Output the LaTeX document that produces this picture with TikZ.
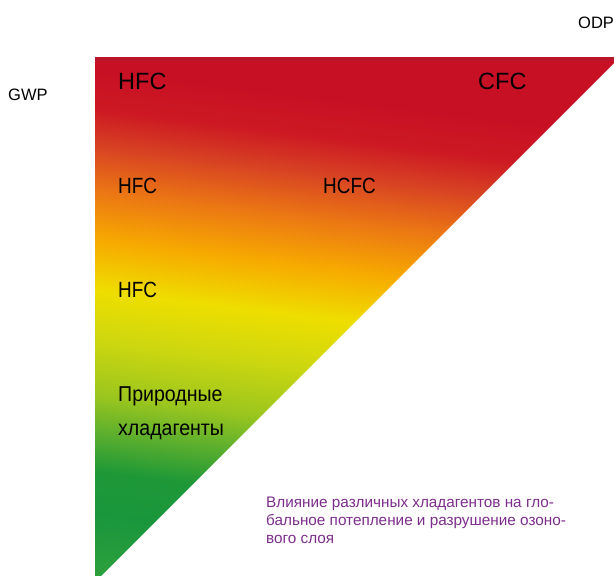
\documentclass[tikz,border=0pt]{standalone}
\usepackage{fontspec}
\setmainfont{Liberation Sans}
\newfontfamily\labwide{Liberation Sans}
\newfontfamily\labnarrow[FakeStretch=0.86]{Liberation Sans}
\newfontfamily\labnat[FakeStretch=0.91]{Liberation Sans}

\definecolor{captionpurple}{RGB}{125,45,140}
\definecolor{topstrip}{RGB}{178,24,48}

% colour stops of the triangle, green (low) to crimson (high)
\definecolor{rampA}{RGB}{45,160,60}
\definecolor{rampB}{RGB}{25,150,60}
\definecolor{rampC}{RGB}{30,152,55}
\definecolor{rampD}{RGB}{95,176,45}
\definecolor{rampE}{RGB}{155,198,30}
\definecolor{rampF}{RGB}{205,215,15}
\definecolor{rampG}{RGB}{238,222,0}
\definecolor{rampH}{RGB}{247,170,0}
\definecolor{rampI}{RGB}{235,118,20}
\definecolor{rampJ}{RGB}{215,65,35}
\definecolor{rampK}{RGB}{205,25,35}
\definecolor{rampL}{RGB}{200,16,36}

\pgfdeclareverticalshading{refrigerant}{100bp}{%
  color(0bp)=(rampA);
  color(33.9bp)=(rampA);
  color(37.7bp)=(rampB);
  color(40.4bp)=(rampC);
  color(42.9bp)=(rampD);
  color(45.1bp)=(rampE);
  color(48.5bp)=(rampF);
  color(51.6bp)=(rampG);
  color(54.7bp)=(rampH);
  color(57.8bp)=(rampI);
  color(60.6bp)=(rampJ);
  color(62.8bp)=(rampK);
  color(65.3bp)=(rampL);
  color(100bp)=(rampL)}

\tikzset{
  toplabel/.style={inner sep=0pt, anchor=base west,
    font=\labwide\fontsize{23.5}{28}\selectfont},
  midlabel/.style={inner sep=0pt, anchor=base west,
    font=\labnarrow\fontsize{22}{26}\selectfont},
  natlabel/.style={inner sep=0pt, anchor=base west,
    font=\labnat\fontsize{21.5}{26}\selectfont},
  axislabel/.style={inner sep=0pt, anchor=base west,
    font=\labwide\fontsize{16.5}{20}\selectfont},
  captionline/.style={inner sep=0pt, anchor=base west, text=captionpurple,
    font=\labwide\fontsize{15.3}{18}\selectfont},
}

\begin{document}
\begin{tikzpicture}[x=1pt,y=1pt]
  \useasboundingbox (0,0) rectangle (614,-576);
  \clip (0,0) rectangle (614,-576);

  % the gradient triangle
  \begin{scope}
    \clip (95,-57) -- (620,-57) -- (95,-582) -- cycle;
    \begin{scope}[transform canvas={rotate around={-7:(95,-316)}}]
      \shade[shading=refrigerant] (-5,-716) rectangle (655,84);
    \end{scope}
    \fill[topstrip, opacity=0.6] (95,-57) rectangle (620,-61);
  \end{scope}

  % axis names
  \node[axislabel] (gwp) at (8,-100) {GWP};
  \node[axislabel] (odp) at (578,-28) {ODP};

  % refrigerant groups
  \node[toplabel] (hfcA) at (118,-89.5) {HFC};
  \node[toplabel] (cfc)  at (478,-89.5) {CFC};
  \node[midlabel] (hfcB) at (118,-193) {HFC};
  \node[midlabel] (hcfc) at (323,-193) {HCFC};
  \node[midlabel] (hfcC) at (118,-297) {HFC};
  \node[natlabel] (natA) at (118,-401) {Природные};
  \node[natlabel] (natB) at (118,-435.5) {хладагенты};

  % caption
  \node[captionline] (capA) at (266,-507) {Влияние различных хладагентов на гло-};
  \node[captionline] (capB) at (266,-525) {бальное потепление и разрушение озоно-};
  \node[captionline] (capC) at (266,-543) {вого слоя};
\end{tikzpicture}
\end{document}
